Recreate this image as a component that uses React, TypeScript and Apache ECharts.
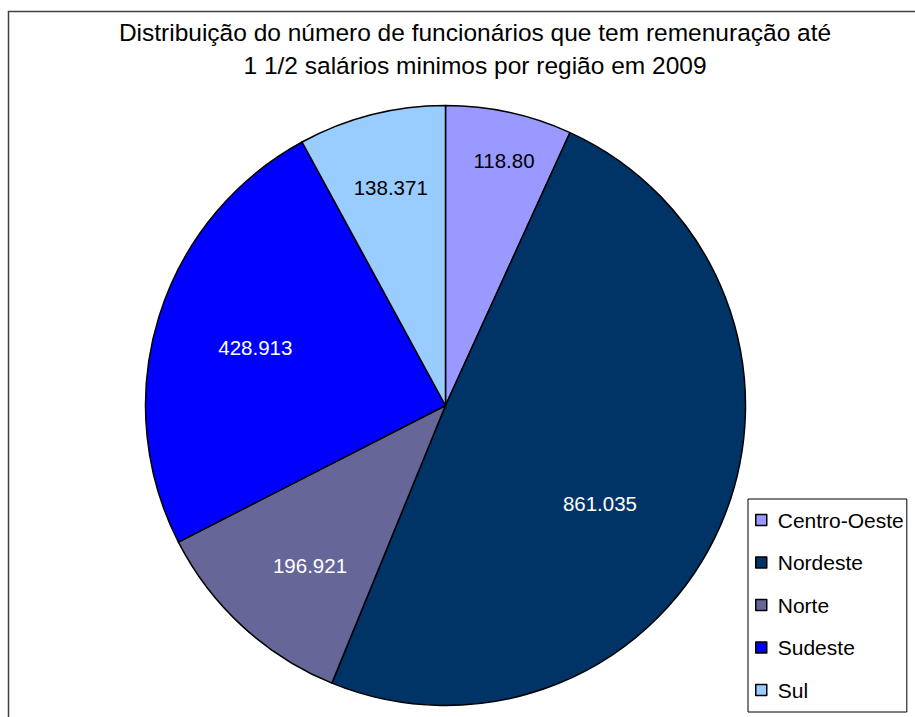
import React, { useEffect, useRef } from "react";
import * as echarts from "echarts";

const categories = ["Centro-Oeste", "Nordeste", "Norte", "Sudeste", "Sul"];
const values = [118.8, 861.035, 196.921, 428.913, 138.371];
const valueLabels = ["118.80", "861.035", "196.921", "428.913", "138.371"];
const colors = ["#9999FF", "#003366", "#666699", "#0000FF", "#99CCFF"];
const labelColors = ["#000000", "#FFFFFF", "#FFFFFF", "#FFFFFF", "#000000"];
const labelShift = [
  [26, -95],
  [14, 37],
  [-32, 47],
  [-44, -13],
  [-17, -70],
];
const titleText =
  "Distribuição do número de funcionários que tem remenuração até\n1 1/2 salários minimos por região em 2009";

export default function App() {
  const ref = useRef<HTMLDivElement>(null);
  useEffect(() => {
    if (!ref.current) return;
    const chart = echarts.init(ref.current, null, { renderer: "svg" });
    const font = "Liberation Sans, Arial, sans-serif";
    chart.setOption({
      animation: false,
      backgroundColor: "#ffffff",
      title: {
        text: titleText,
        left: 475,
        top: 16,
        textAlign: "center",
        padding: 0,
        textStyle: {
          fontFamily: font,
          fontSize: 24.5,
          fontWeight: "normal",
          color: "#000",
          lineHeight: 33,
        },
      },
      graphic: [
        {
          type: "rect",
          shape: { x: 8.5, y: 11.5, width: 930, height: 800 },
          style: { fill: "none", stroke: "#404040", lineWidth: 1.5 },
          silent: true,
          z: -1,
        },
      ],
      legend: {
        orient: "vertical",
        left: 748,
        top: 499,
        padding: [10.5, 3, 11.5, 7],
        itemGap: 21.5,
        itemWidth: 11,
        itemHeight: 11,
        icon: "rect",
        borderColor: "#000",
        borderWidth: 1,
        backgroundColor: "#fff",
        itemStyle: { borderColor: "#000", borderWidth: 1.5 },
        textStyle: { fontFamily: font, fontSize: 21, color: "#000", padding: [0, 0, 0, 6] },
        data: categories,
      },
      series: [
        {
          type: "pie",
          center: [445.5, 405.5],
          radius: 300,
          startAngle: 90,
          clockwise: true,
          avoidLabelOverlap: false,
          itemStyle: { borderColor: "#000", borderWidth: 1.5 },
          label: {
            show: true,
            position: "inside",
            fontFamily: font,
            fontSize: 20.5,
            formatter: (p: any) => valueLabels[p.dataIndex],
          },
          labelLine: { show: false },
          labelLayout: (p: any) => ({
            dx: labelShift[p.dataIndex][0],
            dy: labelShift[p.dataIndex][1],
          }),
          emphasis: { disabled: true },
          data: categories.map((name, i) => ({
            name,
            value: values[i],
            itemStyle: { color: colors[i] },
            label: { color: labelColors[i] },
          })),
        },
      ],
    });
    return () => chart.dispose();
  }, []);
  return (
    <div
      ref={ref}
      style={{ position: "fixed", left: 0, top: 0, width: 915, height: 717 }}
    />
  );
}
